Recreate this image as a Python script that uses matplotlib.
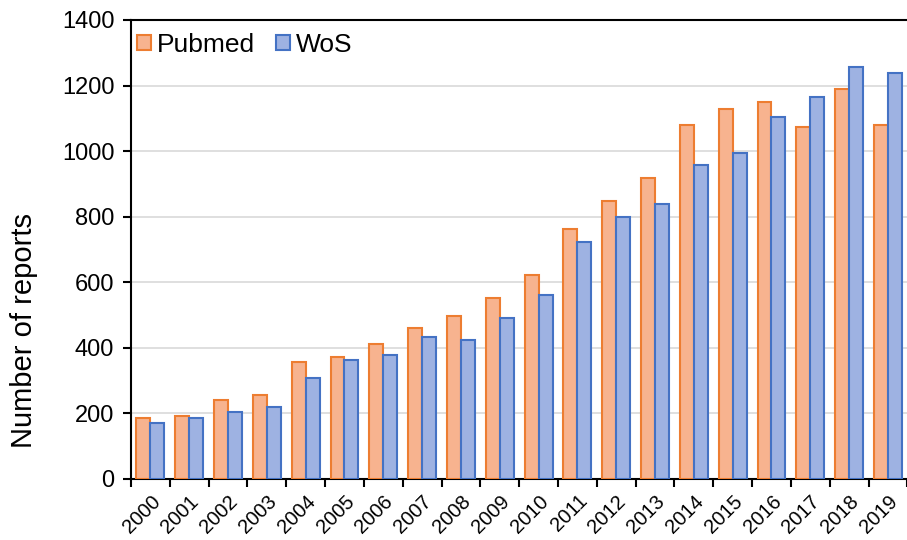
import matplotlib
matplotlib.use("Agg")
import matplotlib.pyplot as plt
import numpy as np
from matplotlib.patches import Patch

plt.rcParams["font.family"] = ["Liberation Sans", "DejaVu Sans"]

years = [str(y) for y in range(2000, 2020)]
pubmed = [187, 192, 241, 255, 357, 372, 412, 460, 497, 552,
          622, 762, 848, 917, 1080, 1130, 1149, 1075, 1191, 1080]
wos = [170, 187, 205, 220, 308, 363, 378, 433, 424, 491,
       561, 723, 799, 838, 958, 993, 1105, 1166, 1256, 1239]

PUB_FILL, PUB_EDGE = "#F7B38F", "#ED7D31"
WOS_FILL, WOS_EDGE = "#9EB2E2", "#4472C4"

fig = plt.figure(figsize=(9.07, 5.40), dpi=100)
ax = fig.add_axes([0.1444, 0.113, 0.856, 0.850])

x = np.arange(len(years))
w = 0.36
ax.bar(x - w / 2, pubmed, w, color=PUB_FILL, edgecolor=PUB_EDGE, linewidth=1.5, zorder=3)
ax.bar(x + w / 2, wos, w, color=WOS_FILL, edgecolor=WOS_EDGE, linewidth=1.5, zorder=3)

ax.set_xlim(-0.5, len(years) - 0.5)
ax.set_ylim(0, 1400)
ax.set_yticks(range(0, 1401, 200))
ax.yaxis.grid(True, color="#D9D9D9", linewidth=1.2, zorder=0)
ax.set_axisbelow(True)

# tick marks sit between categories, labels at the centres
ax.set_xticks(np.arange(-0.5, len(years), 1.0))
ax.set_xticklabels([])
ax.set_xticks(x, minor=True)
ax.set_xticklabels(years, minor=True, rotation=45, ha="right",
                   rotation_mode="anchor", fontsize=14.5)
ax.tick_params(axis="x", which="minor", length=0, pad=9)
ax.tick_params(axis="x", which="major", length=6, width=1.5, direction="out")
ax.tick_params(axis="y", length=6, width=1.5, labelsize=17, pad=6)

for side in ("left", "bottom", "top"):
    ax.spines[side].set_linewidth(1.5)
    ax.spines[side].set_color("black")
ax.spines["right"].set_visible(False)

fig.text(24 / 907, 1 - 331 / 540, "Number of reports", rotation=90,
         fontsize=21, ha="center", va="center")

handles = [Patch(facecolor=PUB_FILL, edgecolor=PUB_EDGE, linewidth=1.5, label="Pubmed"),
           Patch(facecolor=WOS_FILL, edgecolor=WOS_EDGE, linewidth=1.5, label="WoS")]
ax.legend(handles=handles, loc="upper left", ncol=2, frameon=False, fontsize=19,
          handlelength=0.55, handleheight=0.55, handletextpad=0.2, columnspacing=0.8,
          borderaxespad=0.0, bbox_to_anchor=(-0.006, 0.995))

fig.savefig("out.png", dpi=100)
